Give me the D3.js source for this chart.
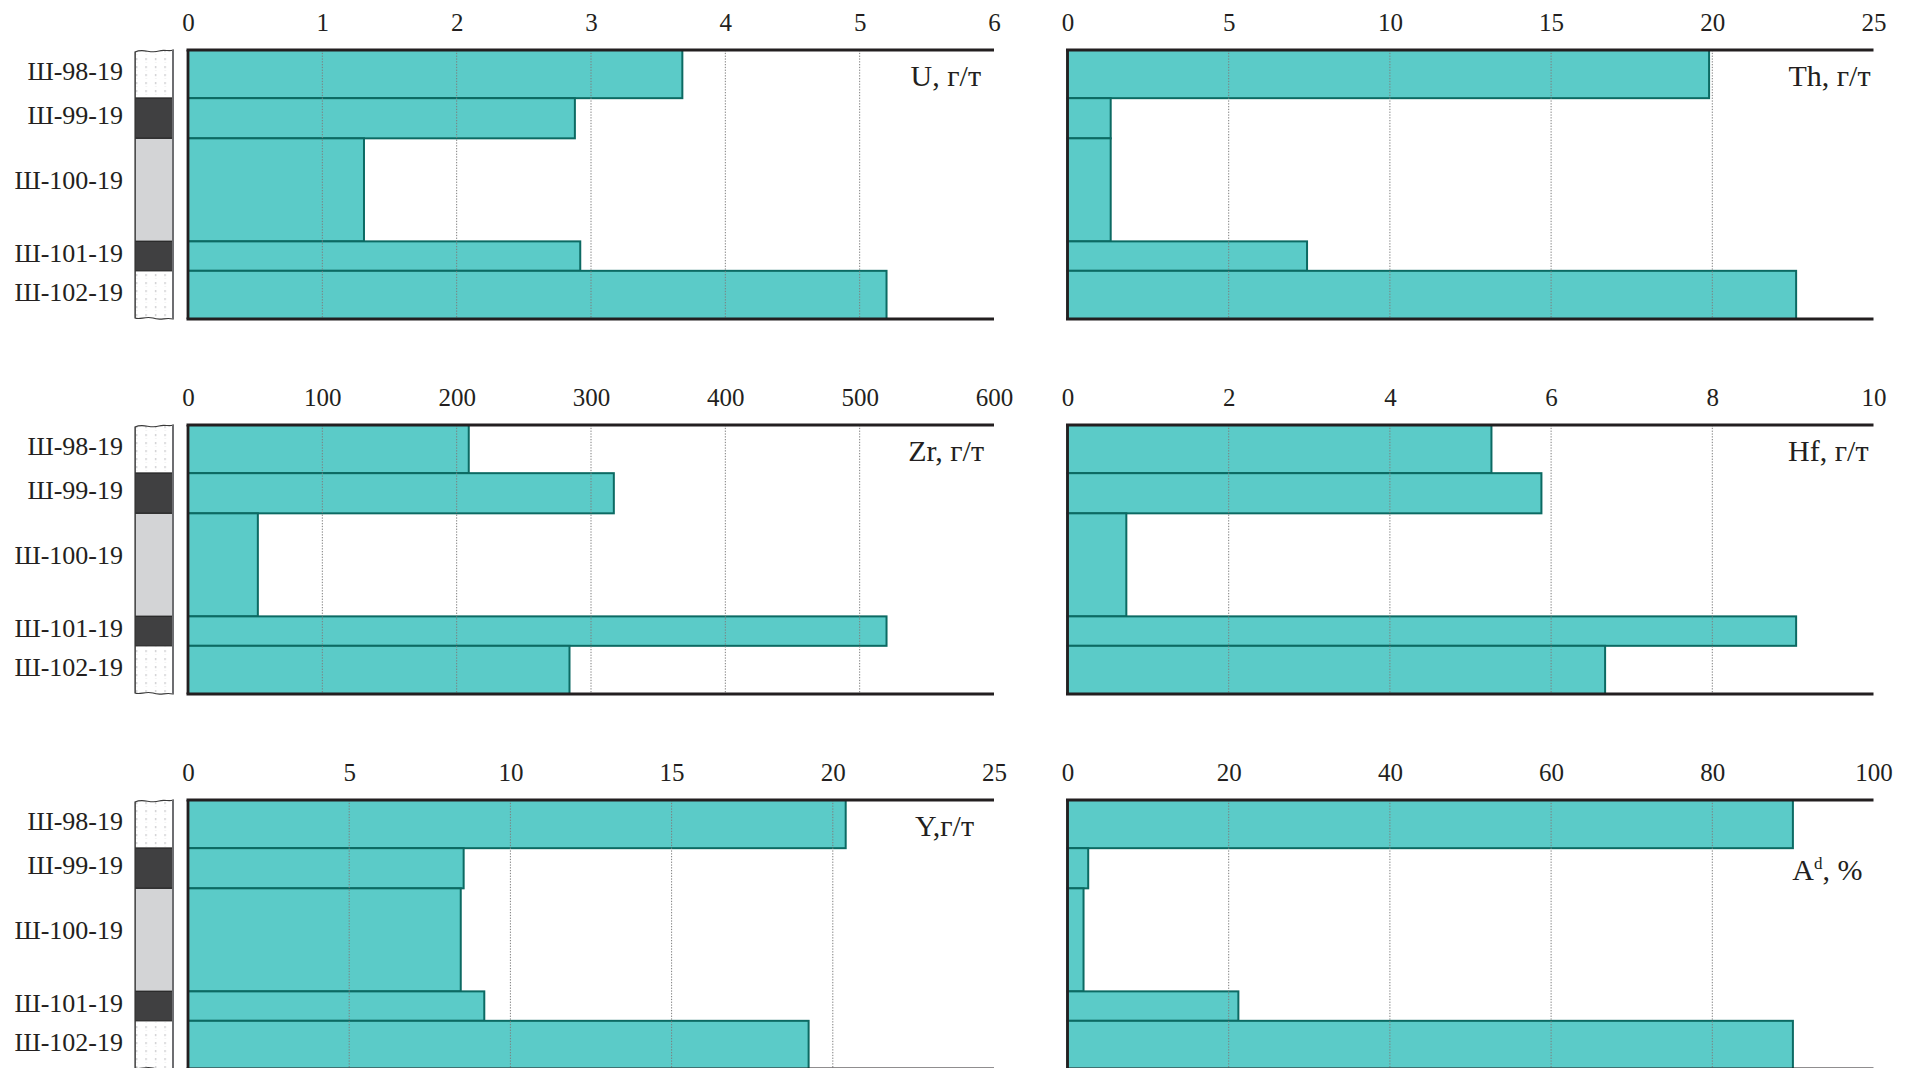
<!DOCTYPE html>
<html>
<head>
<meta charset="utf-8">
<script src="https://cdn.jsdelivr.net/npm/d3@7"></script>
<style>
  body { margin: 0; background: #fff; }
  svg { display: block; }
  text { font-family: "Liberation Serif", "Times New Roman", serif; fill: #231f20; }
</style>
</head>
<body>
<svg id="chart" width="1916" height="1068"></svg>
<script>
// Samples of the section, top to bottom
const samples = ["Ш-98-19", "Ш-99-19", "Ш-100-19", "Ш-101-19", "Ш-102-19"];
// Interval thickness of each sample, m
const thickness = [0.36, 0.30, 0.77, 0.22, 0.36];
// Rock type of each interval (column fill)
const lithology = ["sand", "coal", "clay", "coal", "sand"];

// Contents
const U  = [3.68, 2.88, 1.31, 2.92, 5.20];
const Th = [19.9, 1.34, 1.34, 7.43, 22.6];
const Zr = [209, 317, 52, 520, 284];
const Hf = [5.26, 5.88, 0.73, 9.04, 6.67];
const Yt = [20.4, 8.55, 8.46, 9.19, 19.25];
const Ad = [90.0, 2.57, 1.99, 21.2, 90.0];

// Axis limits and tick steps
const axisMax  = [6, 25, 600, 10, 25, 100];
const axisStep = [1, 5, 100, 2, 5, 20];

const unit = "г/т";
const panels = [
  { values: U,  name: "U",  suffix: ", " + unit },
  { values: Th, name: "Th", suffix: ", " + unit },
  { values: Zr, name: "Zr", suffix: ", " + unit },
  { values: Hf, name: "Hf", suffix: ", " + unit },
  { values: Yt, name: "Y",  suffix: "," + unit },
  { values: Ad, name: "A",  sup: "d", suffix: ", %" }
];

// Layout
const colX = [188, 1067.5];
const rowY = [50, 425, 800];
const panelW = 806, panelH = 269;
const titleInset = [13, 3, 10, 5, 20, 11];
const titleDrop  = [36, 36, 36, 36, 36, 80];

const C = {
  bar: "#5bcbc8", barEdge: "#0c6a63", axis: "#231f20", grid: "#7d7d7d",
  coal: "#404041", clay: "#d3d4d6", sand: "#ffffff"
};

const svg = d3.select("#chart");
const defs = svg.append("defs");

// Dotted fill for sandstone intervals
const pat = defs.append("pattern")
  .attr("id", "sandDots").attr("patternUnits", "userSpaceOnUse")
  .attr("width", 9.5).attr("height", 8);
pat.append("rect").attr("width", 9.5).attr("height", 8).attr("fill", "#fff");
pat.append("rect").attr("x", 3).attr("y", 2).attr("width", 1.2).attr("height", 2.2).attr("fill", "#c9c9cc");
pat.append("rect").attr("x", 3.4).attr("y", 6).attr("width", 0.8).attr("height", 0.8).attr("fill", "#dcdcde");

const cum = [0];
thickness.forEach((t, i) => cum.push(cum[i] + t));

panels.forEach((p, i) => {
  const col = i % 2, row = Math.floor(i / 2);
  const x0 = colX[col], top = rowY[row];
  const g = svg.append("g");

  const x = d3.scaleLinear().domain([0, axisMax[i]]).range([x0, x0 + panelW]);
  const y = d3.scaleLinear().domain([0, cum[cum.length - 1]]).range([top, top + panelH]);
  const ticks = d3.range(0, axisMax[i] + axisStep[i] / 2, axisStep[i]);

  // Bars
  g.selectAll("rect.bar").data(p.values).join("rect")
    .attr("class", "bar")
    .attr("x", x(0))
    .attr("y", (d, k) => y(cum[k]))
    .attr("width", d => x(d) - x(0))
    .attr("height", (d, k) => y(cum[k + 1]) - y(cum[k]))
    .attr("fill", C.bar)
    .attr("stroke", C.barEdge)
    .attr("stroke-width", 2);

  // Dotted grid at inner ticks
  g.selectAll("line.grid").data(ticks.slice(1, -1)).join("line")
    .attr("class", "grid")
    .attr("x1", d => x(d)).attr("x2", d => x(d))
    .attr("y1", top).attr("y2", top + panelH)
    .attr("stroke", C.grid).attr("stroke-width", 1)
    .attr("stroke-dasharray", "1.3,1.5");

  // Frame: top, bottom and left lines
  g.append("line").attr("x1", x0 - 1.5).attr("x2", x(axisMax[i])).attr("y1", top).attr("y2", top)
    .attr("stroke", C.axis).attr("stroke-width", 2.8);
  g.append("line").attr("x1", x0 - 1.5).attr("x2", x(axisMax[i])).attr("y1", top + panelH).attr("y2", top + panelH)
    .attr("stroke", C.axis).attr("stroke-width", 2.8);
  g.append("line").attr("x1", x0).attr("x2", x0).attr("y1", top).attr("y2", top + panelH)
    .attr("stroke", C.axis).attr("stroke-width", 2.8);

  // Tick labels
  const ax = g.append("g").attr("transform", `translate(0,${top})`)
    .call(d3.axisTop(x).tickValues(ticks).tickSize(0).tickPadding(19).tickFormat(d3.format("d")));
  ax.select(".domain").remove();
  ax.selectAll("text").attr("font-size", 25).attr("font-family", null).style("fill", "#231f20");

  // Element title
  const t = g.append("text")
    .attr("x", x(axisMax[i]) - titleInset[i])
    .attr("y", top + titleDrop[i])
    .attr("text-anchor", "end")
    .attr("font-size", 30);
  t.append("tspan").text(p.name);
  if (p.sup) t.append("tspan").attr("font-size", 17).attr("dy", -11).text(p.sup);
  t.append("tspan").attr("dy", p.sup ? 11 : 0).text(p.suffix);

  // Lithology column and sample names on the left-hand panels
  if (col === 0) {
    const sx = x0 - 53, sw = 38;
    const bot = top + panelH;
    const outline =
      `M${sx},${top + 2} C${sx + 9},${top - 2} ${sx + 15},${top + 4} ${sx + 24},${top + 1}` +
      ` C${sx + 30},${top - 1} ${sx + 34},${top + 2} ${sx + sw},${top}` +
      ` L${sx + sw},${bot}` +
      ` C${sx + 30},${bot - 2} ${sx + 26},${bot + 2} ${sx + 18},${bot - 1}` +
      ` C${sx + 10},${bot - 3} ${sx + 5},${bot + 1} ${sx},${bot - 1} Z`;
    const clipId = "clip" + i;
    defs.append("clipPath").attr("id", clipId).append("path").attr("d", outline);

    const strip = g.append("g").attr("clip-path", `url(#${clipId})`);
    strip.selectAll("rect").data(lithology).join("rect")
      .attr("x", sx).attr("width", sw)
      .attr("y", (d, k) => y(cum[k]) - (k === 0 ? 6 : 0))
      .attr("height", (d, k) => y(cum[k + 1]) - y(cum[k]) + (k === 0 || k === lithology.length - 1 ? 6 : 0))
      .attr("fill", d => d === "sand" ? "url(#sandDots)" : C[d])
      .attr("stroke", "#2b2b2b").attr("stroke-width", 1.2);
    g.append("path").attr("d", outline)
      .attr("fill", "none").attr("stroke", "#3a3a3a").attr("stroke-width", 1.2);
    g.append("line").attr("x1", sx + sw).attr("x2", sx + sw).attr("y1", top).attr("y2", bot)
      .attr("stroke", "#6d6e71").attr("stroke-width", 2);

    // Names sit near the middle of each interval; in thick intervals slightly above it
    g.selectAll("text.sample").data(samples).join("text")
      .attr("class", "sample")
      .attr("x", x0 - 65)
      .attr("y", (d, k) => (y(cum[k]) + y(cum[k + 1])) / 2)
      .attr("dy", (d, k) => (y(cum[k + 1]) - y(cum[k]) > 80 ? "-0.05em" : "0.22em"))
      .attr("text-anchor", "end")
      .attr("font-size", 26)
      .text(d => d);
  }
});
</script>
</body>
</html>
